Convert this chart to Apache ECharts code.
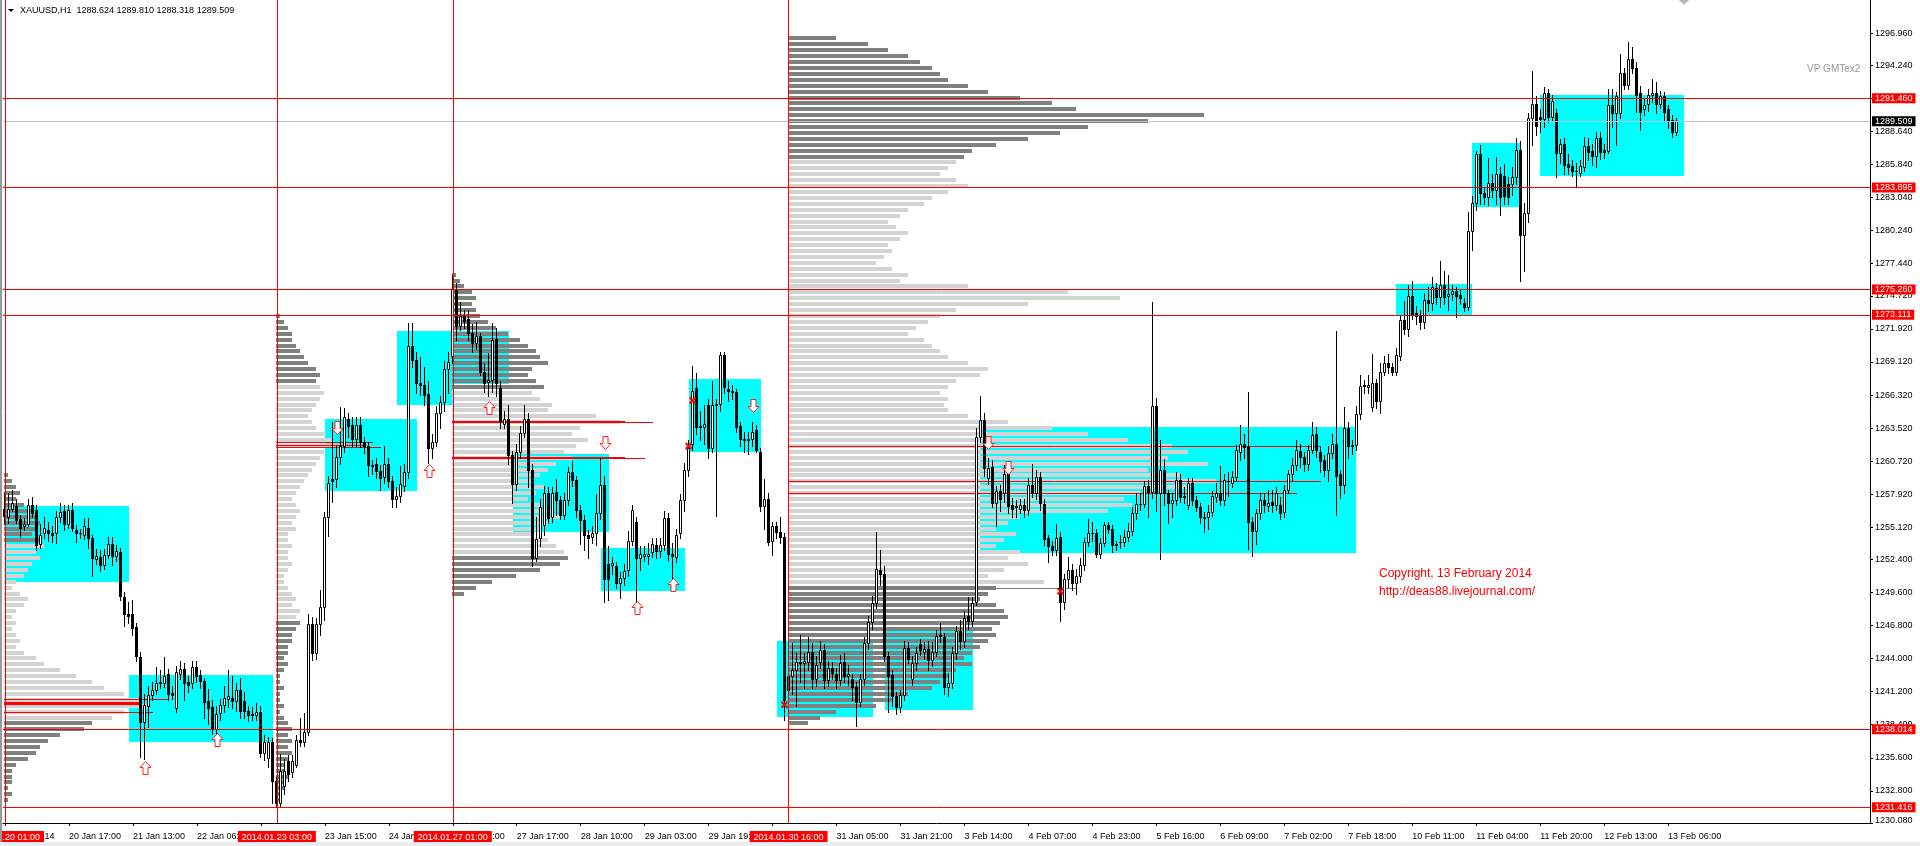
<!DOCTYPE html>
<html><head><meta charset="utf-8">
<script src="https://cdn.jsdelivr.net/npm/echarts@6/dist/echarts.min.js"></script>
<style>html,body{margin:0;padding:0;background:#fff;}#c{width:1920px;height:846px;}</style>
</head><body><div id="c"></div>
<script>
// ---------- DATA ----------
// candles: [open, high, low, close]
const session1Bars = [
[1256.7,1258.0,1255.4,1256.1],[1256.0,1258.0,1255.5,1256.7],[1256.7,1258.3,1256.5,1257.2],[1256.9,1257.5,1255.5,1255.7],[1255.8,1256.2,1254.3,1255.1],
[1255.2,1255.9,1254.9,1255.4],[1255.4,1257.5,1255.2,1257.0],[1257.0,1257.7,1256.0,1256.3],[1256.6,1257.0,1253.2,1253.6],[1253.7,1255.4,1253.4,1254.5],
[1254.6,1256.0,1254.2,1255.1],[1254.9,1255.6,1254.0,1254.6],[1254.6,1255.2,1253.9,1254.5],[1254.6,1256.5,1253.8,1256.0],[1256.0,1257.2,1255.6,1256.4],
[1256.5,1257.0,1254.9,1255.4],[1255.4,1257.0,1255.1,1256.6],[1256.6,1257.2,1254.8,1255.1],[1254.9,1255.3,1253.9,1254.6],[1254.6,1255.0,1254.2,1254.6],
[1254.5,1255.9,1254.1,1255.2],[1255.1,1255.9,1253.4,1254.2],[1254.2,1254.5,1251.0,1252.5],[1252.4,1253.3,1252.0,1252.7],[1252.6,1253.2,1251.4,1251.9],
[1251.9,1253.3,1251.6,1252.8],[1252.8,1254.3,1252.5,1253.7],[1253.7,1254.3,1251.9,1252.7],[1252.7,1253.6,1252.3,1253.1],[1253.0,1253.4,1249.0,1249.3],
[1249.2,1249.6,1246.8,1247.8],[1247.8,1248.8,1247.0,1247.6],[1247.8,1249.0,1246.0,1246.6],[1246.7,1247.0,1243.8,1244.2],[1244.1,1244.6,1235.7,1238.6],
[1238.6,1241.0,1235.5,1240.1],[1240.0,1241.7,1238.2,1240.9],[1240.9,1242.0,1240.5,1241.3],[1241.3,1243.3,1241.0,1241.9],[1241.9,1243.0,1241.5,1242.0],
[1241.9,1244.1,1241.6,1242.5],[1242.7,1243.1,1240.5,1241.0],[1241.1,1241.7,1240.6,1240.9],[1239.8,1243.4,1239.5,1242.9],[1242.7,1243.8,1242.3,1243.1],
[1243.1,1243.6,1240.5,1241.9],[1242.0,1242.5,1241.2,1241.8],[1241.9,1243.8,1241.5,1243.3],[1243.3,1243.8,1242.0,1242.5],[1242.6,1243.0,1241.5,1242.1],
[1242.1,1242.4,1239.0,1240.3],[1240.4,1241.4,1238.5,1239.8],[1239.9,1240.5,1237.6,1238.0],[1238.0,1240.0,1237.6,1239.3],[1239.4,1240.6,1238.8,1240.1],
[1240.1,1241.7,1239.5,1240.7],[1240.6,1243.0,1239.9,1240.8],[1240.7,1242.5,1239.8,1240.4],[1240.4,1241.9,1239.6,1241.3],[1241.3,1242.4,1239.0,1239.6],
[1240.4,1241.2,1239.0,1239.6],[1239.6,1240.0,1238.7,1239.2],[1239.3,1239.9,1238.8,1239.2],[1239.2,1240.2,1238.8,1239.5],[1239.5,1240.0,1235.7,1236.0],
[1236.0,1237.5,1235.4,1236.9],[1235.6,1237.4,1234.8,1236.9],[1236.9,1237.3,1231.8,1233.6]
];
const session2Bars = [
[1233.6,1234.0,1231.4,1231.8],[1231.8,1235.9,1231.5,1234.5],[1233.2,1235.5,1232.5,1234.5],[1235.3,1235.8,1233.6,1234.2],[1234.4,1235.8,1234.0,1235.3],
[1235.0,1237.5,1234.8,1237.1],[1237.1,1239.0,1236.6,1236.9],[1236.9,1239.4,1236.6,1237.8],[1237.8,1247.8,1237.5,1246.9],[1246.9,1247.5,1243.9,1244.5],
[1244.5,1247.4,1244.0,1246.9],[1246.9,1249.8,1246.0,1248.4],[1248.4,1256.4,1247.3,1256.0],[1256.0,1259.5,1254.4,1258.9],[1259.2,1264.0,1257.3,1259.0],
[1259.2,1262.0,1258.5,1261.1],[1261.1,1265.3,1260.5,1262.0],[1262.0,1265.2,1261.5,1264.5],[1264.3,1264.8,1262.8,1263.7],[1263.8,1264.5,1262.0,1262.6],
[1262.6,1264.5,1262.0,1263.8],[1263.8,1264.5,1261.9,1262.3],[1262.3,1262.8,1261.4,1262.0],[1262.0,1262.3,1259.5,1260.4],[1260.4,1260.8,1259.6,1260.3],
[1260.5,1261.0,1259.3,1259.9],[1259.9,1260.4,1258.3,1259.3],[1259.4,1262.0,1258.9,1260.5],[1260.5,1261.0,1258.5,1259.0],[1259.0,1259.5,1256.8,1257.5],
[1257.5,1258.5,1256.8,1257.8],[1257.8,1260.3,1257.3,1258.8],[1258.6,1260.5,1258.2,1259.8],[1259.8,1272.4,1259.3,1270.5],[1270.5,1272.4,1268.7,1269.3],
[1269.3,1270.0,1266.5,1267.3],[1267.3,1269.5,1266.3,1267.2],[1267.2,1268.7,1265.5,1266.3],[1266.4,1267.5,1260.6,1261.8],[1261.8,1263.0,1261.0,1262.3],
[1262.3,1265.4,1262.0,1264.8],[1264.8,1266.2,1263.5,1265.7],[1265.7,1269.2,1265.0,1268.5],[1268.5,1270.0,1266.5,1269.1]
];
const session3Bars = [
[1269.6,1276.5,1269.0,1275.3],[1275.3,1275.8,1271.0,1272.2],[1272.2,1274.2,1271.8,1273.0],[1273.0,1273.5,1272.0,1272.6],[1272.8,1273.5,1271.0,1271.6],
[1271.6,1272.3,1270.0,1270.7],[1270.7,1272.5,1270.2,1271.3],[1271.3,1271.6,1268.0,1268.3],[1268.3,1269.0,1266.6,1267.3],[1267.4,1269.9,1266.2,1267.6],
[1267.6,1272.4,1266.6,1271.0],[1271.1,1272.0,1266.2,1267.3],[1266.9,1267.5,1263.5,1264.1],[1263.9,1265.0,1263.5,1264.3],[1264.3,1265.5,1260.5,1261.2],
[1261.2,1261.6,1257.2,1258.8],[1258.8,1262.2,1258.3,1261.5],[1261.5,1263.7,1261.0,1263.1],[1263.1,1265.5,1262.8,1264.3],[1264.3,1264.8,1258.5,1260.0],
[1260.0,1260.5,1251.8,1252.5],[1252.5,1256.0,1252.3,1254.1],[1254.2,1257.5,1253.5,1256.8],[1255.3,1258.6,1254.5,1258.0],[1258.0,1258.5,1255.5,1255.9],
[1256.0,1258.5,1255.6,1258.0],[1258.1,1259.2,1256.2,1257.4],[1257.4,1257.8,1255.8,1256.2],[1256.2,1258.0,1255.8,1257.4],[1257.4,1260.2,1257.0,1259.8],
[1259.8,1260.7,1258.6,1259.1],[1259.1,1259.5,1256.0,1256.6],[1256.6,1257.0,1253.7,1255.7],[1255.7,1256.2,1253.2,1254.5],[1254.5,1254.9,1252.5,1254.2],
[1254.3,1255.2,1253.8,1254.6],[1254.6,1257.9,1253.6,1256.3],[1256.3,1261.0,1255.8,1258.7],[1258.7,1259.5,1248.8,1250.7],[1252.0,1253.5,1249.0,1250.7],
[1251.9,1252.6,1251.2,1252.1],[1251.8,1252.2,1250.0,1250.4],[1250.4,1251.3,1249.1,1250.8],[1250.8,1252.0,1250.2,1251.4],[1251.5,1254.8,1251.0,1254.0],
[1254.0,1257.0,1253.6,1256.6],[1255.6,1256.0,1248.7,1252.5],[1252.5,1253.5,1251.5,1252.9],[1252.7,1253.5,1252.3,1252.9],[1252.7,1253.8,1252.0,1252.9],
[1253.0,1254.2,1252.6,1253.7],[1253.6,1254.2,1252.5,1253.1],[1253.1,1254.2,1252.6,1253.6],[1253.6,1256.5,1253.2,1255.9],[1255.9,1256.3,1252.3,1252.9],
[1252.9,1253.8,1250.8,1252.7],[1252.6,1255.0,1252.2,1254.5],[1254.6,1257.9,1254.2,1257.4],[1257.4,1260.6,1256.5,1260.0],[1260.0,1262.5,1259.5,1261.8],
[1262.2,1268.8,1261.7,1266.7],[1266.9,1268.2,1263.0,1263.6],[1263.7,1265.0,1262.5,1263.6],[1263.6,1265.5,1262.2,1263.9],[1265.5,1266.0,1261.0,1261.8],
[1261.8,1267.5,1261.5,1265.5],[1265.5,1266.0,1256.1,1265.6],[1265.6,1270.0,1265.0,1269.7],[1269.7,1270.0,1266.5,1267.0],[1266.8,1267.5,1265.8,1266.7],
[1266.7,1267.2,1266.0,1266.6],[1266.6,1266.8,1263.2,1263.6],[1263.7,1264.0,1262.0,1262.6],[1262.6,1263.2,1261.5,1262.5],[1262.5,1263.2,1261.3,1262.6],
[1262.6,1264.0,1262.0,1263.2],[1263.4,1263.8,1261.5,1261.7],[1261.5,1261.8,1256.5,1256.9],[1256.9,1259.2,1255.0,1257.5],[1257.5,1258.0,1253.6,1253.9],
[1254.0,1255.6,1252.8,1255.2],[1255.2,1255.6,1254.2,1254.7],[1254.7,1256.0,1253.8,1254.3],[1254.3,1254.6,1238.8,1240.5]
];
const session4Bars = [
[1242.5,1243.3,1238.5,1241.3],[1242.5,1245.3,1241.0,1243.0],[1243.0,1244.5,1240.0,1243.7],[1243.7,1246.0,1242.0,1243.6],[1243.6,1244.5,1241.5,1243.8],
[1243.7,1245.8,1243.0,1244.6],[1244.6,1245.3,1241.5,1242.3],[1242.3,1244.2,1241.7,1243.5],[1243.7,1245.5,1243.2,1244.7],[1244.7,1245.2,1241.5,1242.2],
[1242.2,1243.8,1241.7,1243.2],[1243.2,1243.7,1242.3,1242.8],[1242.7,1243.2,1241.5,1242.2],[1242.2,1244.3,1241.8,1243.6],[1243.7,1244.5,1242.0,1242.5],
[1242.5,1243.5,1241.8,1242.7],[1242.3,1242.7,1240.5,1241.6],[1241.6,1242.0,1238.3,1240.3],[1240.3,1242.7,1240.0,1242.3],[1242.3,1245.8,1241.8,1245.3],
[1245.3,1247.6,1244.8,1247.1],[1247.1,1249.3,1246.5,1248.7],[1248.7,1254.7,1248.3,1251.6],[1251.5,1253.2,1250.2,1251.2],[1251.2,1251.8,1243.8,1244.2],
[1244.2,1244.6,1239.5,1242.5],[1242.6,1243.0,1240.0,1240.8],[1240.8,1241.2,1239.3,1239.9],[1239.9,1241.3,1239.5,1240.9],[1240.9,1245.5,1240.5,1244.9],
[1244.9,1245.4,1243.6,1244.0],[1242.3,1244.2,1241.8,1243.6],[1243.6,1245.0,1243.0,1244.5],[1245.2,1245.7,1244.3,1244.7],[1244.6,1245.4,1244.0,1244.8],
[1244.8,1245.5,1243.0,1243.9],[1243.9,1245.4,1243.4,1244.6],[1244.6,1246.4,1244.2,1245.9],[1245.9,1247.0,1245.4,1246.0],[1245.8,1246.2,1241.0,1241.6],
[1241.6,1242.8,1240.8,1241.9],[1241.9,1245.0,1241.5,1244.5],[1244.5,1246.8,1244.0,1246.3],[1246.3,1247.3,1244.8,1245.5],[1245.5,1248.0,1245.0,1247.4],
[1247.6,1249.2,1246.5,1247.2],[1247.2,1249.2,1246.8,1248.7],[1248.8,1263.5,1248.5,1262.8],[1262.8,1266.2,1262.3,1264.2],[1264.2,1264.8,1259.5,1260.1],
[1259.3,1261.0,1258.8,1260.1],[1260.2,1260.8,1256.8,1257.2],[1257.2,1258.6,1255.2,1258.2],[1258.2,1258.7,1256.5,1257.5],[1258.0,1260.4,1257.3,1259.6],
[1259.7,1260.0,1256.3,1256.9],[1257.0,1257.6,1256.0,1256.7],[1256.9,1257.4,1256.0,1256.8],[1256.7,1257.5,1256.3,1257.0],[1257.0,1257.5,1256.0,1256.6],
[1256.6,1259.3,1256.2,1258.7],[1258.7,1260.5,1257.7,1258.0],[1258.0,1260.0,1257.5,1259.4],[1259.4,1259.8,1256.6,1257.2],[1257.1,1257.5,1253.6,1254.1],
[1254.2,1254.5,1252.2,1253.5],[1253.5,1254.0,1252.8,1253.2],[1253.2,1255.4,1252.8,1254.2],[1254.3,1254.7,1247.2,1248.8],[1248.8,1251.2,1248.2,1250.7],
[1250.7,1252.6,1250.1,1251.5],[1251.5,1252.0,1249.8,1250.4],[1250.4,1251.6,1249.5,1251.0],[1251.0,1252.5,1250.5,1251.9],[1251.9,1254.2,1251.5,1253.9],
[1253.9,1255.8,1253.5,1254.6],[1254.6,1255.6,1254.0,1254.6],[1254.6,1255.0,1252.6,1252.9],[1252.9,1254.2,1252.5,1253.8],[1253.8,1255.6,1253.5,1255.3],
[1255.3,1255.6,1254.6,1255.0],[1255.0,1255.3,1253.0,1253.6],[1253.7,1254.0,1253.2,1253.6],[1253.9,1254.5,1253.4,1253.9],[1253.9,1254.9,1253.5,1254.3],
[1254.3,1255.5,1254.0,1254.8],[1254.8,1256.8,1254.5,1256.3],[1256.3,1258.0,1255.8,1257.1],[1257.1,1258.0,1256.6,1257.1],[1257.1,1259.0,1256.8,1258.6],
[1258.6,1259.1,1256.0,1258.1],[1258.1,1274.2,1257.6,1265.4],[1265.4,1266.1,1256.5,1258.0],[1258.0,1262.5,1252.4,1260.0],[1260.0,1260.9,1257.0,1258.0],
[1258.0,1258.3,1255.5,1257.2],[1257.2,1258.0,1256.0,1257.4],[1257.4,1259.8,1257.0,1259.1],[1259.1,1259.6,1257.3,1257.7],[1257.8,1258.5,1257.2,1257.7],
[1257.0,1259.3,1256.7,1258.9],[1258.9,1259.3,1257.0,1257.4],[1257.4,1257.8,1256.5,1256.8],[1256.8,1257.2,1255.5,1256.0],[1256.0,1256.4,1254.7,1255.9],
[1256.0,1257.0,1255.0,1256.4],[1256.4,1258.2,1256.1,1257.8],[1257.7,1258.9,1257.3,1258.0],[1258.0,1260.3,1257.0,1257.4],[1257.4,1259.6,1257.0,1259.1],
[1259.0,1259.8,1257.8,1259.0],[1258.9,1259.9,1258.5,1259.4],[1259.4,1262.1,1259.1,1261.7],[1261.5,1263.8,1260.8,1262.2],[1262.2,1263.0,1261.0,1261.9],
[1261.9,1266.6,1253.3,1255.6],[1255.6,1256.0,1252.7,1254.8],[1254.8,1256.7,1253.7,1256.3],[1256.3,1258.0,1255.8,1257.4],[1257.4,1258.0,1256.4,1257.0],
[1256.9,1258.3,1256.5,1257.2],[1257.3,1258.3,1256.4,1257.0],[1257.0,1258.5,1256.6,1258.0],[1257.0,1257.7,1255.8,1256.3],[1256.4,1258.7,1256.0,1258.3],
[1258.3,1260.0,1258.0,1259.6],[1259.6,1261.0,1259.0,1260.4],[1260.4,1262.5,1260.0,1261.7],[1261.6,1262.2,1260.2,1261.1],[1261.1,1261.5,1259.9,1260.5],
[1260.5,1262.1,1260.0,1261.7],[1261.7,1264.0,1261.4,1262.9],[1263.0,1263.6,1261.1,1261.7],[1261.5,1261.9,1259.8,1260.7],[1260.8,1261.2,1259.5,1260.0],
[1260.0,1262.0,1259.0,1261.4],[1261.4,1263.0,1261.0,1262.2],[1262.2,1271.7,1256.2,1259.5],[1259.6,1260.0,1257.6,1258.7],[1258.7,1265.3,1258.0,1263.5],
[1263.5,1264.0,1261.0,1262.0],[1262.1,1262.5,1261.3,1262.0],[1262.1,1265.4,1261.7,1264.7],[1264.7,1268.0,1264.3,1267.1],[1267.1,1267.6,1266.5,1267.2],
[1267.0,1268.0,1266.5,1267.2],[1265.3,1269.8,1265.0,1267.3],[1267.3,1267.7,1265.2,1265.8],[1265.8,1269.0,1264.8,1268.3],[1268.3,1269.6,1268.0,1269.0],
[1269.0,1269.8,1268.2,1268.7],[1268.7,1269.0,1268.0,1268.3],[1268.3,1270.3,1268.0,1269.7],[1269.6,1273.1,1269.3,1272.7],[1272.7,1274.3,1271.5,1271.9],
[1271.9,1275.6,1271.3,1274.7],[1274.7,1276.0,1272.8,1273.2],[1273.3,1273.9,1272.3,1273.0],[1273.0,1273.5,1271.9,1272.5],[1272.5,1275.0,1272.0,1274.4],
[1274.4,1275.5,1273.4,1274.1],[1274.1,1276.3,1273.5,1275.5],[1275.4,1275.8,1274.0,1274.6],[1274.6,1277.7,1273.8,1275.6],[1275.6,1276.8,1274.0,1274.6],
[1274.7,1276.5,1273.5,1274.9],[1274.9,1275.6,1274.4,1275.1],[1275.1,1275.5,1272.9,1274.7],[1274.8,1275.2,1274.0,1274.5],[1274.1,1274.5,1273.4,1273.8],
[1273.8,1281.8,1273.5,1280.2],[1280.2,1283.2,1278.6,1282.6],[1282.6,1287.0,1282.0,1286.7],[1286.7,1287.5,1282.5,1283.4],[1283.4,1283.9,1282.5,1283.1],
[1283.1,1286.4,1282.4,1284.3],[1284.3,1285.0,1283.1,1283.7],[1283.7,1286.5,1282.5,1285.0],[1285.0,1285.6,1281.6,1283.1],[1284.9,1285.9,1282.5,1283.2],
[1284.2,1284.8,1282.5,1283.1],[1284.2,1285.6,1283.3,1284.8],[1284.8,1288.1,1284.2,1287.1],[1287.1,1287.8,1276.0,1279.9],[1279.9,1282.6,1276.8,1281.7],
[1281.7,1290.2,1281.0,1289.8],[1289.8,1293.8,1287.5,1291.0],[1291.0,1291.6,1288.3,1289.1],[1289.9,1290.5,1288.6,1289.7],[1289.7,1292.4,1289.0,1291.9],
[1291.9,1292.2,1289.4,1289.9],[1289.9,1291.7,1289.6,1291.2],[1290.2,1290.5,1284.8,1286.8],[1286.8,1288.0,1286.0,1287.6],[1287.6,1288.1,1285.0,1285.8],
[1285.9,1286.7,1285.0,1285.6],[1285.7,1286.2,1284.9,1285.3],[1285.3,1286.0,1284.0,1285.3],[1285.1,1286.2,1284.9,1285.7],[1285.6,1288.2,1285.3,1287.4],
[1287.4,1288.1,1286.2,1286.9],[1287.0,1287.6,1285.8,1286.6],[1286.6,1288.6,1285.6,1288.1],[1288.1,1288.6,1286.3,1286.9],[1287.1,1287.6,1286.4,1286.9],
[1287.0,1292.2,1286.8,1290.9],[1290.9,1292.2,1289.0,1290.2],[1290.2,1292.0,1287.5,1291.6],[1290.2,1295.2,1289.8,1293.6],[1293.6,1294.0,1292.2,1292.6],
[1292.6,1296.2,1292.2,1294.8],[1294.8,1295.8,1293.6,1294.0],[1294.0,1294.5,1290.3,1291.7],[1291.9,1292.5,1288.8,1290.3],[1290.5,1291.4,1290.0,1290.9],
[1291.0,1292.2,1290.4,1291.7],[1291.7,1293.1,1291.1,1291.9],[1291.9,1292.8,1290.2,1291.0],[1291.0,1292.1,1290.6,1291.6],[1291.6,1292.0,1289.5,1290.3],
[1290.5,1290.9,1288.9,1289.5],[1289.6,1290.0,1288.2,1288.6],[1288.624,1289.810,1288.318,1289.509]
];

const sessionStarts = [0, 68, 112, 196];
const sessionLabels = ['2014.01.20 01:00', '2014.01.23 03:00', '2014.01.27 01:00', '2014.01.30 16:00'];
const timeLabels = ['20 Jan 2014','20 Jan 17:00','21 Jan 13:00','22 Jan 06:00','22 Jan 23:00','23 Jan 15:00','24 Jan 08:00',
  '27 Jan 01:00','27 Jan 17:00','28 Jan 10:00','29 Jan 03:00','29 Jan 19:00','30 Jan 12:00','31 Jan 05:00','31 Jan 21:00',
  '3 Feb 14:00','4 Feb 07:00','4 Feb 23:00','5 Feb 16:00','6 Feb 09:00','7 Feb 02:00','7 Feb 18:00','10 Feb 11:00',
  '11 Feb 04:00','11 Feb 20:00','12 Feb 13:00','13 Feb 06:00'];
const labelEvery = 16;
const totalSlots = 467;

const priceTicks = [1230.08,1232.80,1235.60,1238.40,1241.20,1244.00,1246.80,1249.60,1252.40,1255.12,1257.92,1260.72,
  1263.52,1266.32,1269.12,1271.92,1274.72,1277.44,1280.24,1283.04,1285.84,1288.64,1291.44,1294.24,1296.96];
const priceMin = 1230.08, priceMax = 1299.77;
const levelLines = [1291.460, 1283.895, 1275.260, 1273.111, 1238.014, 1231.416];
const lastPrice = 1289.509;

// value areas: [startBar, endBar, top, bottom]
const valueAreas = [
 [0,31,1256.9,1250.5],[31,67,1242.6,1236.9],[80,103,1264.3,1258.2],[98,112,1271.7,1265.4],[112,126,1271.7,1267.2],
 [127,151,1261.3,1254.7],[149,170,1253.4,1249.8],[171,189,1267.7,1261.5],[193,217,1245.5,1239.1],[220,242,1246.3,1239.6],
 [244,338,1263.6,1252.9],[348,367,1275.7,1273.1],[367,379,1287.7,1282.3],[384,420,1291.7,1284.8]
];
// point-of-control lines: [startBar, endBar, price]
const pocThick = [[0,34,1240.2]];
const pocThin = [[0,41,1240.6],[0,37,1239.5],[68,92,1262.3],[68,94,1261.9],[68,90,1262.1],[112,155,1264.15],[112,162,1264.0],
 [112,155,1261.1],[112,160,1260.95],[196,329,1262.0],[196,329,1259.0],[196,323,1258.0]];
const pocGray = [[196,268,1250.0]];

// volume profiles (length in bars), from top price downward in steps of profileStep
const profileStep = 0.5;
const profileTops = [1259.5, 1273.0, 1276.5, 1296.5];
const profileVA = [[1253.9,1238.7],[1267.2,1247.5],[1266.9,1252.9],[1286.0,1250.4]];
const profile1 = [1,2,3,4,3,5,7,8,9,8,7,9,10,8,9,7,6,5,3,2,4,6,5,3,2,3,2,3,4,3,5,8,10,14,18,22,25,30,34,36,30,27,22,20,14,11,9,8,6,3,2,2,2,1,2,1];
const profile2 = [1,2,3,4,4,5,6,7,8,10,11,10,11,12,11,10,9,8,9,10,12,14,15,12,11,10,9,8,7,6,5,4,5,6,5,4,5,3,3,4,
 3,3,4,3,2,2,3,4,5,4,6,5,6,5,4,4,3,3,2,3,2,1,1,2,1,1,2,1,2,3,4,3,4,3,4,3,2,2,3,2,2,1,1];
const profile3 = [1,2,3,5,6,5,6,7,9,11,14,17,19,21,22,24,20,19,21,23,20,22,25,24,36,42,32,30,34,31,
 28,30,26,24,22,20,23,21,19,22,25,27,24,22,20,24,26,28,29,27,22,16,10,6,3];
const profile4 = [12,20,25,30,33,36,38,40,45,50,58,66,72,104,90,75,68,60,52,46,44,42,40,38,42,45,40,36,34,30,
 28,25,27,30,28,25,26,24,22,26,30,28,45,70,83,60,42,38,35,32,30,34,36,38,40,45,50,48,42,40,
 38,40,39,40,45,55,66,75,85,96,100,95,105,90,98,107,100,88,84,86,80,58,55,52,57,54,52,58,55,60,
 54,50,64,52,50,48,52,54,55,53,51,52,50,48,46,44,46,42,40,38,36,30,26,22,12,8,5];
const profiles = [profile1, profile2, profile3, profile4];

const upArrows = [[35,1234.7],[53,1237.1],[106,1259.9],[121,1265.2],[158,1248.3],[167,1250.2]];
const downArrows = [[83,1263.6],[150,1262.3],[187,1265.5],[246,1262.3],[251,1260.2]];
const crossMarks = [[171,1262.0],[172,1265.85],[195,1240.1],[264,1249.7]];

// ---------- BUILD ----------
const FONT = '"Liberation Sans", Arial, sans-serif';
const bars = session1Bars.concat(session2Bars, session3Bars, session4Bars);
// rows: [index, open, close, low, high]
const candleRows = bars.map((b, i) => [i, b[0], b[3], Math.min(b[2], b[0], b[3]), Math.max(b[1], b[0], b[3])]);
const categories = Array.from({length: totalSlots}, (_, i) => String(i));

const profileRows = [];
profiles.forEach((arr, s) => {
  arr.forEach((len, k) => {
    const p = profileTops[s] - k * profileStep;
    const inVA = (p <= profileVA[s][0] && p >= profileVA[s][1]) ? 1 : 0;
    profileRows.push([sessionStarts[s], p, len, inVA]);
  });
});

const isLabelIdx = (i) => i % labelEvery === 0 && i / labelEvery < timeLabels.length;

const chart = echarts.init(document.getElementById('c'), null, {renderer: 'canvas'});

function lineRender(color, width) {
  return function (params, api) {
    const a = api.coord([api.value(0), api.value(2)]);
    const b = api.coord([api.value(1), api.value(2)]);
    const y = Math.round(a[1]) + (width % 2 ? 0.5 : 0);
    return {type: 'line', shape: {x1: Math.floor(a[0]), y1: y, x2: Math.floor(b[0]) + 1, y2: y},
      style: {stroke: color, lineWidth: width}};
  };
}

function candleRender(params, api) {
  const i = api.value(0), o = api.value(1), c = api.value(2), l = api.value(3), h = api.value(4);
  const pO = api.coord([i, o]), pC = api.coord([i, c]), pL = api.coord([i, l]), pH = api.coord([i, h]);
  const X = Math.floor(pO[0]);
  const yO = Math.round(pO[1]), yC = Math.round(pC[1]);
  const yTop = Math.min(yO, yC), yBot = Math.max(yO, yC);
  const yH = Math.round(pH[1]), yL = Math.round(pL[1]);
  const children = [{type: 'line', shape: {x1: X + 0.5, y1: yH, x2: X + 0.5, y2: yL + 1}, style: {stroke: '#000', lineWidth: 1}}];
  if (c > o && yBot - yTop >= 2) {
    children.push({type: 'rect', shape: {x: X - 0.5, y: yTop + 0.5, width: 2, height: yBot - yTop},
      style: {fill: '#fff', stroke: '#000', lineWidth: 1}});
  } else {
    children.push({type: 'rect', shape: {x: X - 1, y: yTop, width: 3, height: Math.max(1, yBot - yTop + 1)},
      style: {fill: '#000'}});
  }
  return {type: 'group', children: children};
}

const option = {
  animation: false,
  backgroundColor: '#ffffff',
  textStyle: {fontFamily: FONT},
  grid: {left: 3, right: 50, top: 0, bottom: 23, containLabel: false, outerBoundsMode: 'none'},
  xAxis: {
    type: 'category', data: categories, boundaryGap: true,
    axisLine: {show: true, lineStyle: {color: '#000', width: 1}},
    axisTick: {show: true, alignWithLabel: true, interval: (i) => isLabelIdx(i), length: 3, lineStyle: {color: '#000'}},
    axisLabel: {show: true, interval: (i) => isLabelIdx(i), formatter: (v, i) => timeLabels[i / labelEvery],
      align: 'left', fontSize: 9, color: '#000', margin: 9, fontFamily: FONT},
    splitLine: {show: false}
  },
  yAxis: {
    type: 'value', position: 'right', min: priceMin, max: priceMax, scale: true,
    axisLine: {show: true, lineStyle: {color: '#000', width: 1}},
    axisTick: {show: true, customValues: priceTicks, length: 3, lineStyle: {color: '#000'}},
    axisLabel: {show: true, customValues: priceTicks, fontSize: 9, color: '#000', margin: 5, fontFamily: FONT,
      formatter: (v) => (Math.abs(v - priceMin) < 1e-6 ? '{lo|' + v.toFixed(3) + '}' : v.toFixed(3)),
      rich: {lo: {fontSize: 9, color: '#000', fontFamily: FONT, padding: [0, 0, 4, 0]}}},
    splitLine: {show: false}
  },
  series: [
    {
      type: 'custom', name: 'valueAreas', z: 1, silent: true, data: valueAreas,
      encode: {x: [0, 1], y: [2, 3]},
      renderItem: (params, api) => {
        const a = api.coord([api.value(0), api.value(2)]);
        const b = api.coord([api.value(1), api.value(3)]);
        return {type: 'rect', shape: {x: Math.round(a[0]), y: Math.round(a[1]), width: Math.round(b[0] - a[0]), height: Math.round(b[1] - a[1])},
          style: {fill: '#00ffff'}};
      }
    },
    {
      type: 'custom', name: 'profiles', z: 2, silent: true, data: profileRows,
      encode: {x: 0, y: 1},
      renderItem: (params, api) => {
        const p = api.coord([api.value(0), api.value(1)]);
        const bw = api.size([1, 0])[0];
        const bh = api.size([0, profileStep])[1];
        return {type: 'rect', shape: {x: Math.floor(p[0]), y: Math.round(p[1] - bh / 2 + 0.8), width: Math.round(bw * api.value(2)), height: Math.max(1, Math.round(bh - 1.6))},
          style: {fill: api.value(3) ? '#d3d3d3' : '#808080'}};
      }
    },
    {type: 'custom', name: 'pocGray', z: 3, silent: true, data: pocGray, encode: {x: [0, 1], y: 2}, renderItem: lineRender('#808080', 1)},
    {type: 'custom', name: 'pocThin', z: 3, silent: true, data: pocThin, encode: {x: [0, 1], y: 2}, renderItem: lineRender('#ff0000', 1)},
    {type: 'custom', name: 'pocThick', z: 3, silent: true, data: pocThick, encode: {x: [0, 1], y: 2}, renderItem: lineRender('#ff0000', 3)},
    {
      type: 'line', name: 'guides', data: [], z: 3, silent: true, clip: false,
      markLine: {
        symbol: 'none', silent: true, animation: false,
        data: [
          ...levelLines.map(v => ({yAxis: v, lineStyle: {color: '#ff0000', width: 1, type: 'solid'},
            label: {show: true, position: 'end', distance: 2, formatter: v.toFixed(3), color: '#fff', backgroundColor: '#ff0000',
              padding: [1, 3, 0, 3], fontSize: 9, fontFamily: FONT}})),
          {yAxis: lastPrice, lineStyle: {color: '#c0c0c0', width: 1, type: 'solid'},
            label: {show: true, position: 'end', distance: 2, formatter: lastPrice.toFixed(3), color: '#fff', backgroundColor: '#000',
              padding: [1, 3, 0, 3], fontSize: 9, fontFamily: FONT}},
          ...sessionStarts.map((s, k) => ({xAxis: String(s), lineStyle: {color: '#ff0000', width: 1, type: 'solid'},
            label: {show: true, position: 'start', distance: 8, formatter: sessionLabels[k], color: '#fff', backgroundColor: '#ff0000',
              padding: [2, 4, 1, 4], fontSize: 9, fontFamily: FONT}}))
        ]
      }
    },
    {
      type: 'custom', name: 'XAUUSD', z: 4, silent: true, data: candleRows,
      encode: {x: 0, y: [1, 2, 3, 4]},
      renderItem: candleRender
    },
    {
      type: 'custom', name: 'upArrows', z: 5, silent: true, data: upArrows, encode: {x: 0, y: 1},
      renderItem: (params, api) => {
        const c = api.coord([api.value(0), api.value(1)]);
        const pts = [[0,-7],[5.5,-1],[2.5,-1],[2.5,6],[-2.5,6],[-2.5,-1],[-5.5,-1]].map(q => [Math.round(c[0]) + 0.5 + q[0], Math.round(c[1]) + 0.5 + q[1]]);
        return {type: 'polygon', shape: {points: pts}, style: {fill: '#ffffff', stroke: '#ff2020', lineWidth: 1}};
      }
    },
    {
      type: 'custom', name: 'downArrows', z: 5, silent: true, data: downArrows, encode: {x: 0, y: 1},
      renderItem: (params, api) => {
        const c = api.coord([api.value(0), api.value(1)]);
        const pts = [[0,7],[5.5,1],[2.5,1],[2.5,-6],[-2.5,-6],[-2.5,1],[-5.5,1]].map(q => [Math.round(c[0]) + 0.5 + q[0], Math.round(c[1]) + 0.5 + q[1]]);
        return {type: 'polygon', shape: {points: pts}, style: {fill: '#ffffff', stroke: '#ff2020', lineWidth: 1}};
      }
    },
    {
      type: 'custom', name: 'crosses', z: 5, silent: true, data: crossMarks, encode: {x: 0, y: 1},
      renderItem: (params, api) => {
        const c = api.coord([api.value(0), api.value(1)]);
        return {type: 'group', children: [
          {type: 'line', shape: {x1: c[0]-3, y1: c[1]-3, x2: c[0]+3, y2: c[1]+3}, style: {stroke: '#ff0000', lineWidth: 2}},
          {type: 'line', shape: {x1: c[0]-3, y1: c[1]+3, x2: c[0]+3, y2: c[1]-3}, style: {stroke: '#ff0000', lineWidth: 2}}
        ]};
      }
    }
  ],
  graphic: [
    {type: 'rect', left: 0, top: 0, shape: {width: 2, height: 846}, style: {fill: '#9a9a9a'}, z: 100},
    {type: 'rect', left: 0, top: 842, shape: {width: 1920, height: 4}, style: {fill: '#ececec'}, z: 100},
    {type: 'polygon', shape: {points: [[1679, 0], [1689, 0], [1684, 5]]}, style: {fill: '#b8b8b8'}, z: 100},
    {type: 'polygon', shape: {points: [[8, 9], [14, 9], [11, 12]]}, style: {fill: '#000'}, z: 100},
    {type: 'text', x: 20, y: 11, z: 100, style: {text: 'XAUUSD,H1  1288.624 1289.810 1288.318 1289.509', fill: '#000',
      font: '9px ' + FONT, verticalAlign: 'middle'}},
    {type: 'text', x: 1807, y: 69, z: 100, style: {text: 'VP GMTex2', fill: '#9a9a9a', font: '10px ' + FONT, verticalAlign: 'middle'}},
    {type: 'text', x: 1379, y: 574, z: 100, style: {text: 'Copyright, 13 February 2014', fill: '#ff0000', font: '12px ' + FONT, verticalAlign: 'middle'}},
    {type: 'text', x: 1379, y: 592, z: 100, style: {text: 'http://deas88.livejournal.com/', fill: '#ff0000', font: '12px ' + FONT, verticalAlign: 'middle'}}
  ]
};
chart.setOption(option);
</script>
</body></html>
